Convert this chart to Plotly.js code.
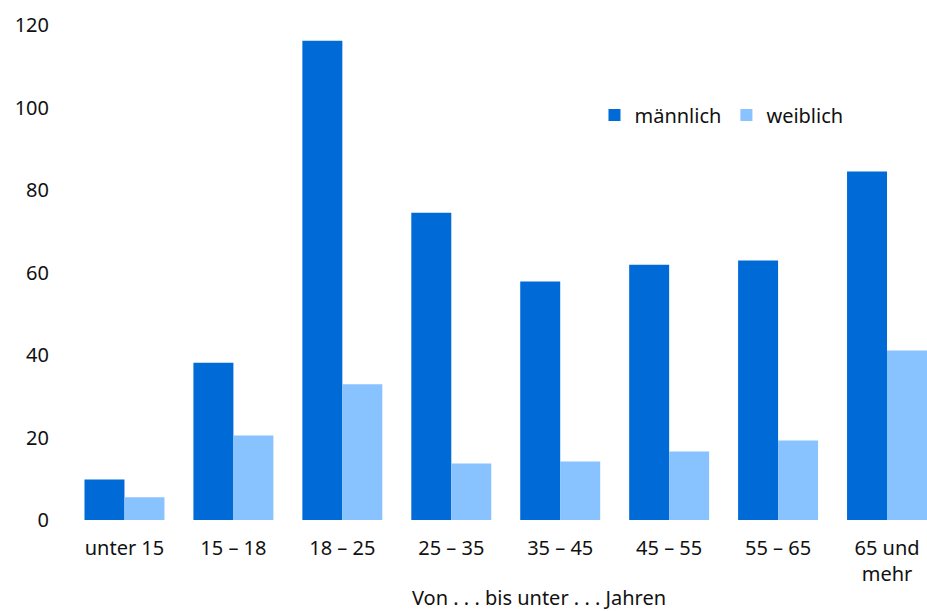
<!DOCTYPE html>
<html><head><meta charset="utf-8">
<script src="https://cdn.plot.ly/plotly-3.0.1.min.js"></script>
<style>html,body{margin:0;padding:0;background:#fff;}#chart{width:927px;height:611px;}</style>
</head><body><div id="chart"></div>
<script>
const categories = ["unter 15", "15 – 18", "18 – 25", "25 – 35", "35 – 45", "45 – 55", "55 – 65", "65 und<br>mehr"];
const maleValues = [9.8, 38.1, 116.2, 74.5, 57.8, 61.9, 62.9, 84.5];
const femaleValues = [5.5, 20.5, 32.9, 13.7, 14.2, 16.6, 19.3, 41.1];
const yTicks = [0, 20, 40, 60, 80, 100, 120];
const seriesNames = ["männlich", "weiblich"];
const xTitle = "Von . . . bis unter . . . Jahren";

const font = {family: "Noto Sans, Open Sans, sans-serif", size: 20, color: "#111111"};
const traces = [
  {type: "bar", name: seriesNames[0], x: categories, y: maleValues, marker: {color: "#006BD6"}},
  {type: "bar", name: seriesNames[1], x: categories, y: femaleValues, marker: {color: "#88C2FF"}}
];
const layout = {
  width: 927, height: 611,
  margin: {l: 70, r: 0, t: 25, b: 91},
  paper_bgcolor: "#fff", plot_bgcolor: "#fff",
  font: font,
  barmode: "group", bargap: 0.266, bargroupgap: 0,
  showlegend: true,
  legend: {orientation: "h", x: 0.612, y: 0.818, xanchor: "left", yanchor: "middle",
           font: font, bgcolor: "rgba(0,0,0,0)", traceorder: "normal", itemwidth: 30},
  xaxis: {type: "category", range: [-0.5, 7.367], showgrid: false, zeroline: false,
          showline: false, ticks: "", tickfont: font, ticklabelstandoff: 14, fixedrange: true},
  yaxis: {range: [0, 120], tickvals: yTicks, showgrid: false, zeroline: false, showline: false,
          ticks: "", tickfont: font, ticklabelstandoff: 20, fixedrange: true},
  annotations: [{xref: "paper", yref: "paper", x: 0.397, y: -0.156, xanchor: "left", yanchor: "middle",
                 text: xTitle, showarrow: false, font: font}]
};
Plotly.newPlot("chart", traces, layout, {displayModeBar: false, staticPlot: true});
</script></body></html>
